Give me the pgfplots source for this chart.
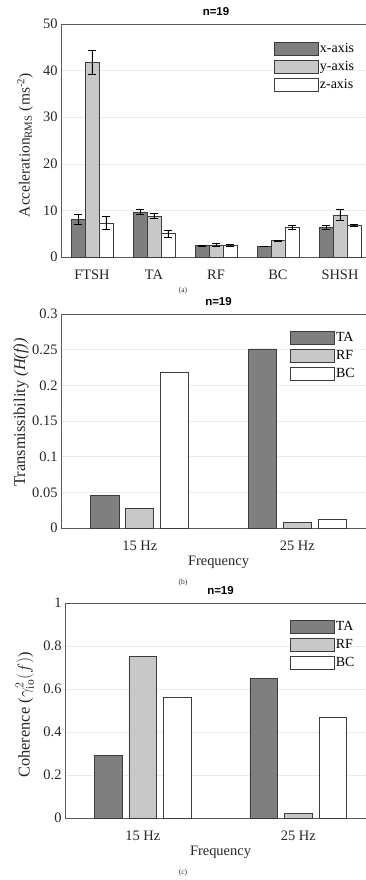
\documentclass[border=0pt]{standalone}
\usepackage{fontspec}
\setmainfont{Liberation Serif}
\newfontfamily\titlefont{Liberation Sans}
\usepackage{pgfplots}
\pgfplotsset{compat=1.18}
\usepackage{pgfplotstable}

\definecolor{dgray}{HTML}{7F7F7F}
\definecolor{lgray}{HTML}{C8C8C8}
\definecolor{edge}{HTML}{3C3C3C}
\definecolor{axcol}{HTML}{5A5A5A}
\definecolor{gridc}{HTML}{EBEBEB}

% panel (a): RMS acceleration, mean and error
\pgfplotstableread{
x y e
1 8.1 1.0
2 9.7 0.6
3 2.5 0.1
4 2.3 0.1
5 6.4 0.4
}\accx
\pgfplotstableread{
x y e
1 41.8 2.5
2 8.8 0.6
3 2.6 0.3
4 3.5 0.1
5 9.0 1.2
}\accy
\pgfplotstableread{
x y e
1 7.3 1.4
2 5.0 0.7
3 2.5 0.2
4 6.4 0.4
5 6.8 0.3
}\accz
% panel (b): transmissibility
\pgfplotstableread{
x TA RF BC
1 0.046 0.028 0.218
2 0.251 0.008 0.012
}\trans
% panel (c): coherence
\pgfplotstableread{
x TA RF BC
1 0.29 0.75 0.56
2 0.65 0.02 0.47
}\coh

\pgfplotsset{
  base/.style={
    scale only axis, anchor=south west,
    axis line style={axcol, line width=0.6bp},
    tick style={draw=none},
    ymajorgrids, grid style={gridc, line width=0.6bp},
    /pgf/number format/assume math mode=true,
    ticklabel style={font=\fontsize{14.5}{16}\selectfont, text=black!85},
    xticklabel style={yshift=-5bp},
    label style={font=\fontsize{14.5}{16}\selectfont, text=black!85},
    title style={font=\titlefont\bfseries\fontsize{11.5}{13}\selectfont, at={(axis description cs:0.5,1)}, anchor=base, yshift=3bp},
    ybar,
    legend image code/.code={\draw[##1,/tikz/.cd,line width=0.6bp] (0bp,-6.5bp) rectangle (44bp,6.5bp);},
    legend style={draw=none, fill=none, inner sep=0pt, anchor=north west, font=\fontsize{14}{15}\selectfont, row sep=4.5bp, nodes={inner sep=1.2bp}, cells={anchor=west}},
    every axis plot/.append style={draw=edge, line width=0.6bp},
  }
}

\begin{document}
\begin{tikzpicture}
\useasboundingbox (0,0) rectangle (366bp,-880bp);

% ---------------- (a)
\begin{axis}[base,
  at={(61bp,-257bp)}, width=310bp, height=233bp,
  xmin=0.5, xmax=5.5, ymin=0, ymax=50,
  xtick={1,2,3,4,5}, xticklabels={FTSH,TA,RF,BC,SHSH},
  ytick={0,10,20,30,40,50},
  bar width=0.225,
  title={n=19},
  ylabel={Acceleration\textsubscript{RMS} (ms\textsuperscript{-2})},
  ylabel style={at={(axis description cs:-0.116,0.48)}, anchor=center, font=\fontsize{15.5}{17}\selectfont},
  legend style={at={(axis description cs:0.687,0.925)}},
  error bars/error bar style={black, line width=0.6bp},
  error bars/error mark options={black, rotate=90, mark size=4bp, line width=0.6bp},
]
\addplot[fill=dgray, bar shift=-0.225, error bars/.cd, y dir=both, y explicit] table[x=x, y=y, y error=e] {\accx};
\addplot[fill=lgray, bar shift=0, error bars/.cd, y dir=both, y explicit] table[x=x, y=y, y error=e] {\accy};
\addplot[fill=white, bar shift=0.225, error bars/.cd, y dir=both, y explicit] table[x=x, y=y, y error=e] {\accz};
\legend{x-axis, y-axis, z-axis}
\end{axis}
\node[font=\fontsize{7.5}{8}\selectfont, text=black!85] at (183bp,-291bp) {(a)};

% ---------------- (b)
\begin{axis}[base,
  at={(61bp,-528bp)}, width=315bp, height=214bp,
  xmin=0.5, xmax=2.5, ymin=0, ymax=0.3,
  xtick={1,2}, xticklabels={15 Hz,25 Hz},
  ytick={0,0.05,0.1,0.15,0.2,0.25,0.3},
  yticklabel style={/pgf/number format/fixed, /pgf/number format/precision=2},
  scaled y ticks=false,
  bar width=0.178,
  title={n=19},
  xlabel={Frequency},
  xlabel style={at={(axis description cs:0.5,0)}, anchor=center, yshift=-34bp},
  ylabel={Transmissibility \textit{(H(f))}},
  ylabel style={at={(axis description cs:-0.127,0.54)}, anchor=center, font=\fontsize{16.5}{18}\selectfont},
  legend style={at={(axis description cs:0.727,0.923)}},
]
\addplot[fill=dgray, bar shift=-0.222] table[x=x, y=TA] {\trans};
\addplot[fill=lgray, bar shift=0] table[x=x, y=RF] {\trans};
\addplot[fill=white, bar shift=0.222] table[x=x, y=BC] {\trans};
\legend{TA, RF, BC}
\end{axis}
\node[font=\fontsize{7.5}{8}\selectfont, text=black!85] at (183bp,-583bp) {(b)};

% ---------------- (c)
\begin{axis}[base,
  at={(65bp,-818bp)}, width=311bp, height=215bp,
  xmin=0.5, xmax=2.5, ymin=0, ymax=1,
  xtick={1,2}, xticklabels={15 Hz,25 Hz},
  ytick={0,0.2,0.4,0.6,0.8,1},
  yticklabel style={/pgf/number format/fixed, /pgf/number format/precision=1},
  bar width=0.178,
  title={n=19},
  xlabel={Frequency},
  xlabel style={at={(axis description cs:0.5,0)}, anchor=center, yshift=-34bp},
  ylabel={Coherence ($\gamma^2_{\mathrm{io}}(f)$)},
  ylabel style={at={(axis description cs:-0.129,0.48)}, anchor=center, font=\fontsize{16.5}{18}\selectfont},
  legend style={at={(axis description cs:0.723,0.923)}},
]
\addplot[fill=dgray, bar shift=-0.222] table[x=x, y=TA] {\coh};
\addplot[fill=lgray, bar shift=0] table[x=x, y=RF] {\coh};
\addplot[fill=white, bar shift=0.222] table[x=x, y=BC] {\coh};
\legend{TA, RF, BC}
\end{axis}
\node[font=\fontsize{7.5}{8}\selectfont, text=black!85] at (183bp,-873bp) {(c)};
\end{tikzpicture}
\end{document}
